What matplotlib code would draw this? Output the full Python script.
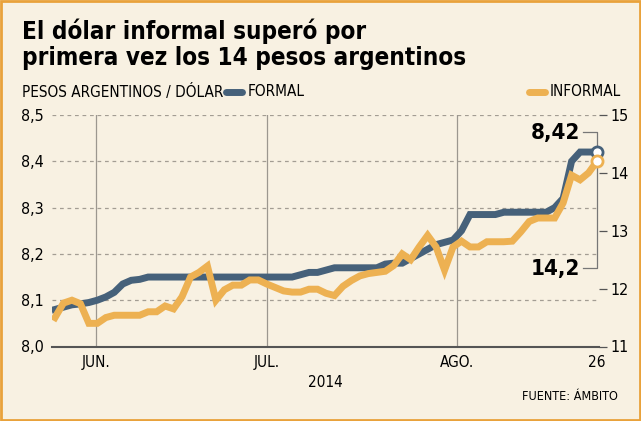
import matplotlib
matplotlib.use("Agg")
import matplotlib.pyplot as plt
from matplotlib.patches import Rectangle

plt.rcParams['font.family'] = ['DejaVu Sans']
plt.rcParams['font.stretch'] = 'condensed'

# serie diaria (ruedas) del 26 de mayo al 26 de agosto de 2014
formal = [8.080, 8.085, 8.090, 8.092, 8.095, 8.100, 8.107, 8.117, 8.135, 8.143,
          8.145, 8.150, 8.150, 8.150, 8.150, 8.150, 8.150, 8.150, 8.150, 8.150,
          8.150, 8.150, 8.150, 8.150, 8.150, 8.150, 8.150, 8.150, 8.150, 8.155,
          8.160, 8.160, 8.165, 8.170, 8.170, 8.170, 8.170, 8.170, 8.170, 8.178,
          8.180, 8.180, 8.190, 8.200, 8.210, 8.220, 8.225, 8.230, 8.250, 8.285,
          8.285, 8.285, 8.285, 8.290, 8.290, 8.290, 8.290, 8.290, 8.290, 8.300,
          8.320, 8.400, 8.420, 8.420, 8.420]
informal = [11.50, 11.75, 11.80, 11.74, 11.40, 11.40, 11.50, 11.54, 11.54, 11.54,
            11.54, 11.60, 11.60, 11.70, 11.65, 11.86, 12.20, 12.28, 12.39, 11.80,
            11.98, 12.06, 12.06, 12.15, 12.15, 12.08, 12.02, 11.96, 11.94, 11.94,
            11.99, 11.99, 11.92, 11.88, 12.04, 12.14, 12.22, 12.26, 12.28, 12.30,
            12.40, 12.60, 12.50, 12.72, 12.92, 12.72, 12.32, 12.72, 12.82, 12.72,
            12.72, 12.81, 12.81, 12.81, 12.82, 12.98, 13.16, 13.22, 13.22, 13.22,
            13.48, 13.96, 13.88, 14.00, 14.20]
mes_pos = [4.84, 25.0, 47.46]
mes_lbl = ['JUN.', 'JUL.', 'AGO.']
yl_ticks = [8.0, 8.1, 8.2, 8.3, 8.4, 8.5]
yr_ticks = [11, 12, 13, 14, 15]

bg = '#F8F1E2'
c_formal = '#46617A'
c_informal = '#EDB152'
grid_c = '#A39D93'

fig = plt.figure(figsize=(6.41, 4.21), dpi=100, facecolor=bg)
fig.patches.append(Rectangle((0.002, 0.003), 0.996, 0.994, transform=fig.transFigure,
                             fill=False, edgecolor='#E9A23B', lw=2))

ax = fig.add_axes([52/641, 1-346.5/421, 547/641, 231.5/421])
ax.set_facecolor(bg)
ax.set_xlim(-0.354, 64.236)
ax.set_ylim(8.0, 8.5)
x = list(range(len(formal)))

for v in yl_ticks[1:]:
    ax.axhline(v, color=grid_c, lw=0.9, ls=(0, (3, 3)), zorder=1)
for p in mes_pos:
    ax.axvline(p, color='#9C978F', lw=0.9, zorder=1)

for s in ['top', 'right', 'left']:
    ax.spines[s].set_visible(False)
ax.spines['bottom'].set_color('#555555')
ax.spines['bottom'].set_linewidth(1.5)

ax.set_yticks(yl_ticks)
ax.set_yticklabels([('%.1f' % v).replace('.', ',') for v in yl_ticks], fontsize=11.5)
ax.tick_params(axis='y', length=0, pad=6)
ax.set_xticks(mes_pos + [64])
ax.set_xticklabels(mes_lbl + ['26'], fontsize=11)
ax.tick_params(axis='x', length=0, pad=6)
ax.text(0.5, -0.125, '2014', transform=ax.transAxes, ha='center', va='top', fontsize=11)

ax2 = ax.twinx()
ax2.set_ylim(11, 15)
ax2.set_yticks(yr_ticks)
ax2.set_yticklabels([str(v) for v in yr_ticks], fontsize=11.5)
ax2.tick_params(axis='y', length=6, width=0.9, color='#555555', pad=2)
for s in ax2.spines.values():
    s.set_visible(False)

ax.plot(x, formal, color=c_formal, lw=5, solid_joinstyle='miter', zorder=3)
ax2.plot(x, informal, color=c_informal, lw=5, solid_joinstyle='miter', zorder=3)

# corchete de los valores finales
ax.plot([62.3, 64.0, 64.0, 62.3], [8.463, 8.463, 8.170, 8.170], color='#777777', lw=0.9, zorder=2)
ax.plot([x[-1]], [formal[-1]], 'o', ms=8, mfc='white', mec=c_formal, mew=2, zorder=5, clip_on=False)
ax2.plot([x[-1]], [informal[-1]], 'o', ms=8, mfc='white', mec=c_informal, mew=2, zorder=5, clip_on=False)
ax.text(62.0, 8.462, ('%.2f' % formal[-1]).replace('.', ','), ha='right', va='center',
        fontsize=16, weight='bold')
ax.text(62.0, 8.168, ('%.1f' % informal[-1]).replace('.', ','), ha='right', va='center',
        fontsize=16, weight='bold')

fig.text(22/641, 1-19/421, 'El dólar informal superó por\nprimera vez los 14 pesos argentinos',
         ha='left', va='top', fontsize=17.4, weight='bold', linespacing=1.08)
fig.text(22/641, 1-92/421, 'PESOS ARGENTINOS / DÓLAR', ha='left', va='center', fontsize=11)
fig.lines.append(plt.Line2D([226/641, 242/641], [1-92/421]*2, transform=fig.transFigure,
                            color=c_formal, lw=5, solid_capstyle='round'))
fig.text(248/641, 1-92/421, 'FORMAL', ha='left', va='center', fontsize=11)
fig.lines.append(plt.Line2D([529/641, 545/641], [1-92/421]*2, transform=fig.transFigure,
                            color=c_informal, lw=5, solid_capstyle='round'))
fig.text(550/641, 1-92/421, 'INFORMAL', ha='left', va='center', fontsize=11)
fig.text(618/641, 1-396/421, 'FUENTE: ÁMBITO', ha='right', va='center', fontsize=9)

fig.savefig('out.png', dpi=100, facecolor=bg)
